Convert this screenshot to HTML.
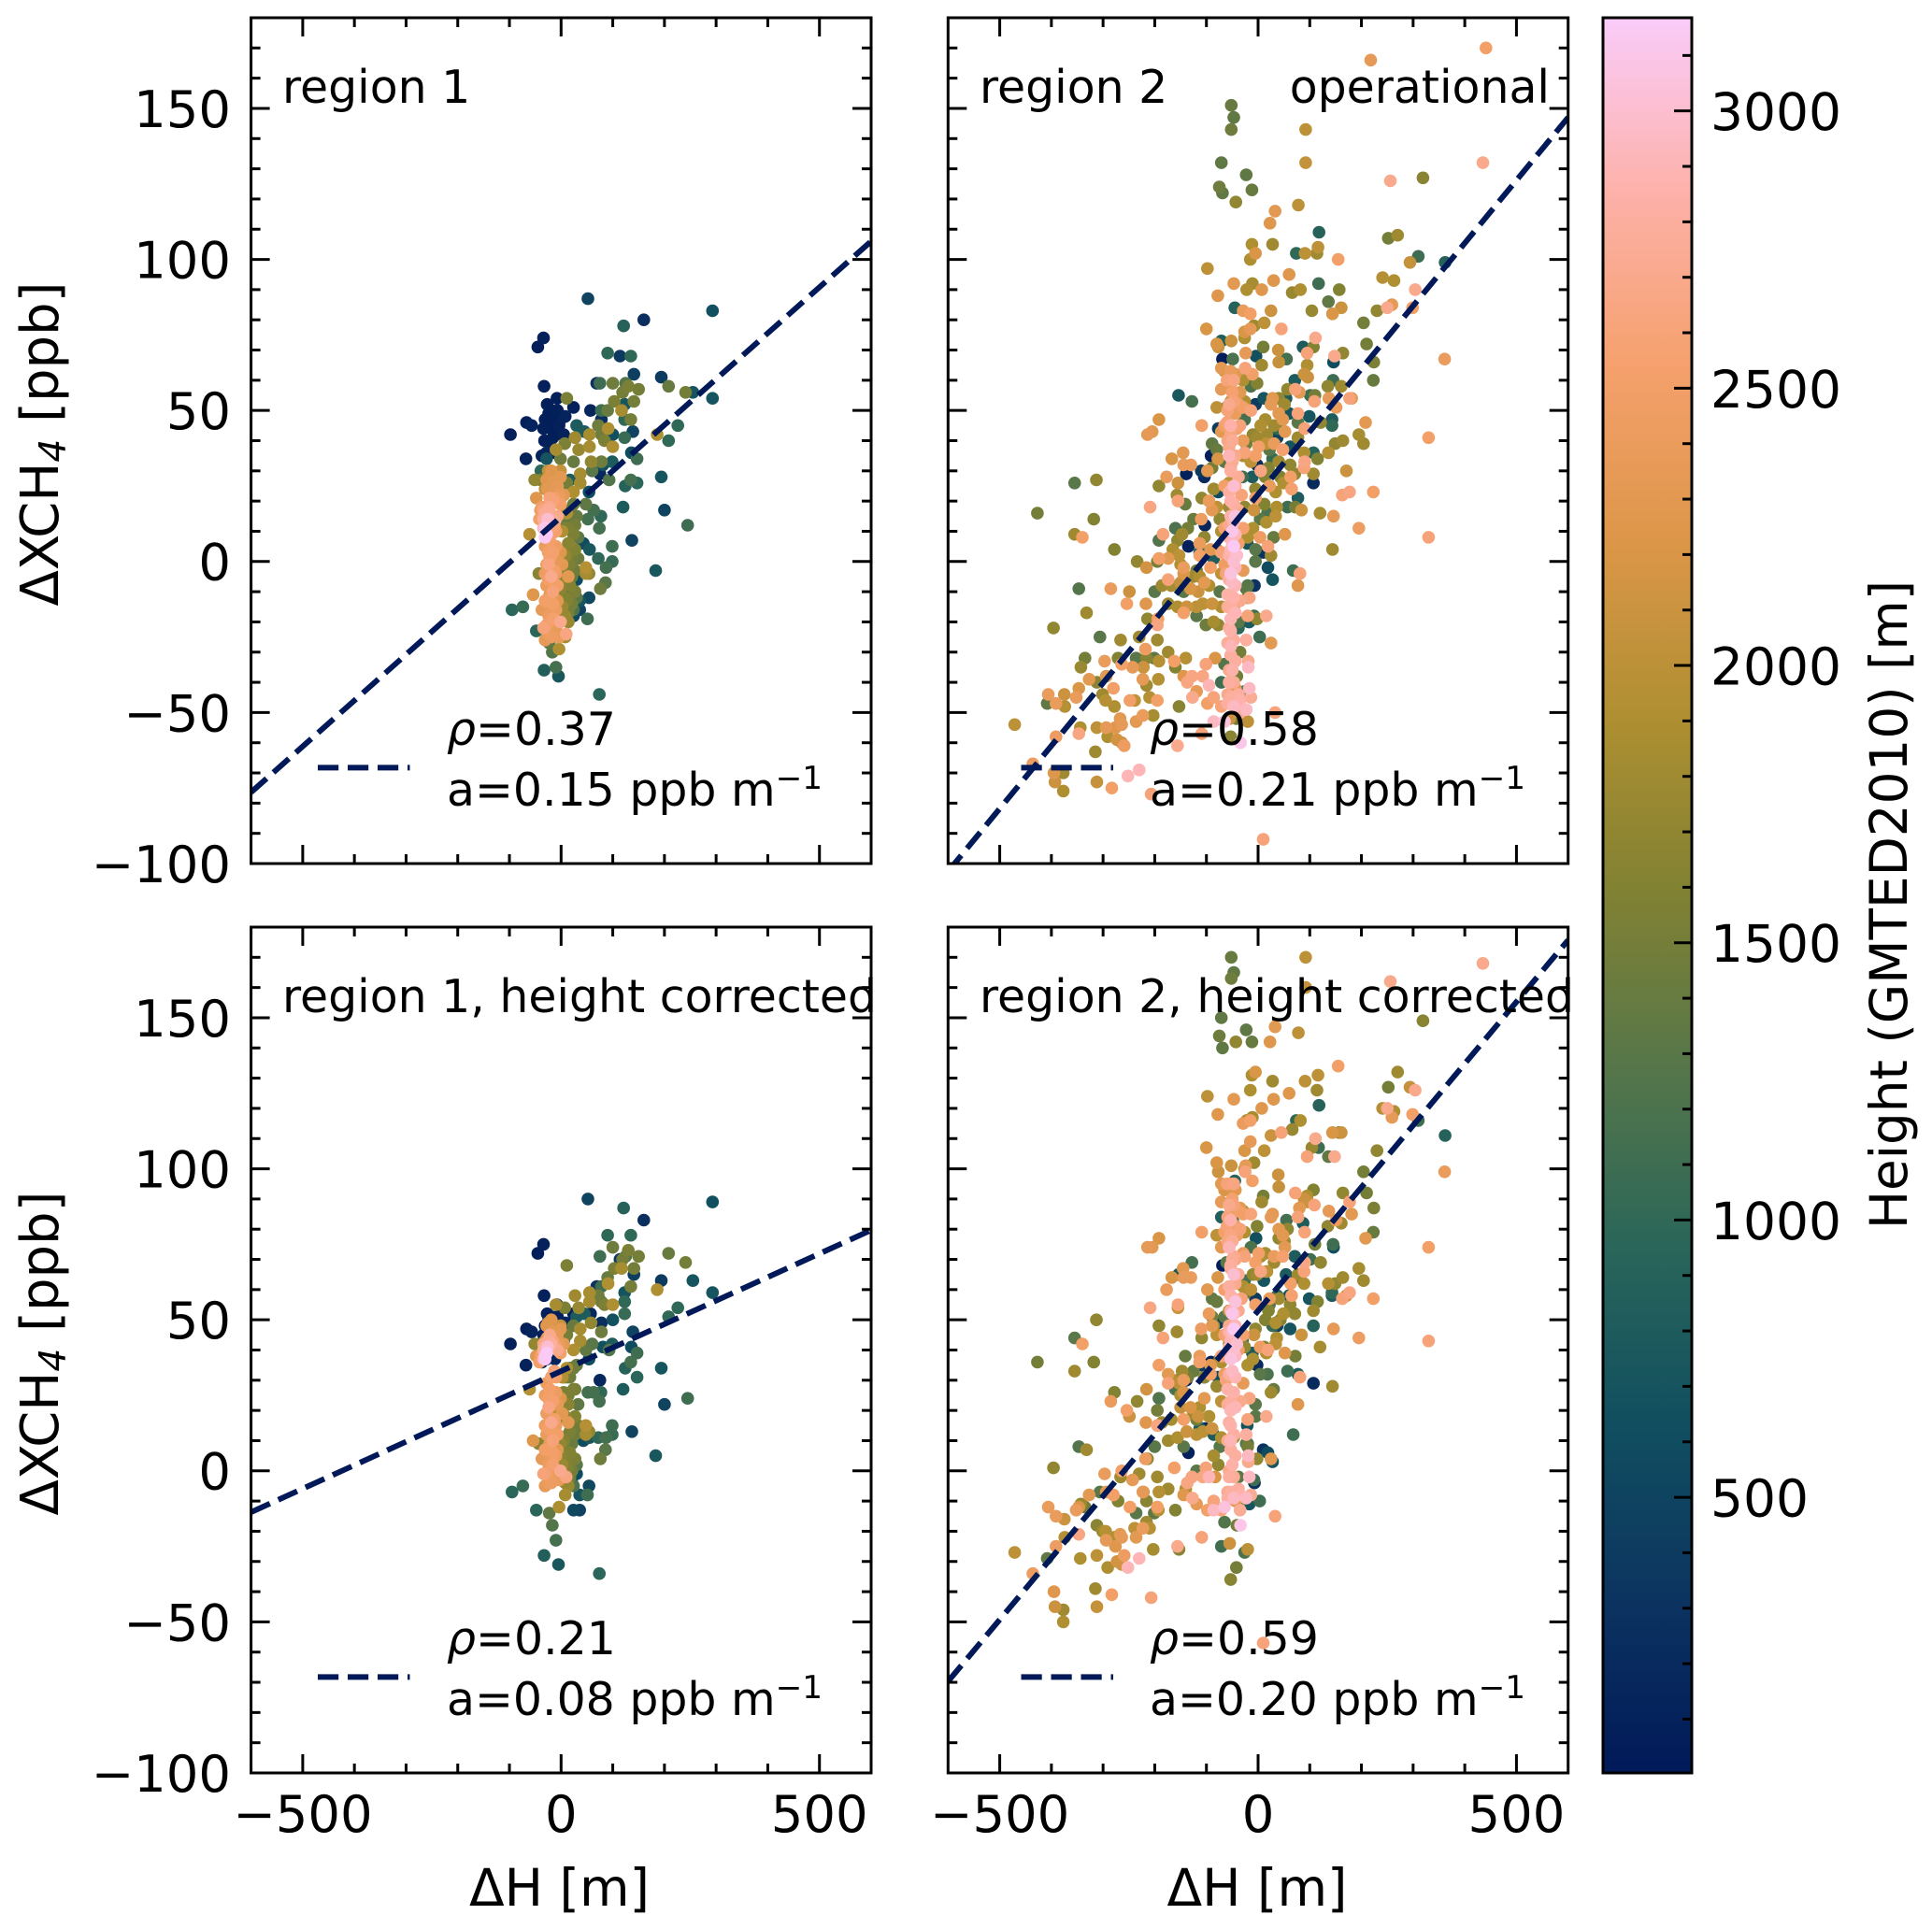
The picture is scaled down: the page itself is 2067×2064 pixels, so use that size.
<!DOCTYPE html>
<html lang="en">
<head>
<meta charset="utf-8">
<title>XCH4 enhancement versus height difference</title>
<style>
html,body{margin:0;padding:0;background:#fff;}
svg{display:block;font-family:"DejaVu Sans","Liberation Sans",sans-serif;fill:#000;}
</style>
</head>
<body>
<svg id="chart" xmlns="http://www.w3.org/2000/svg" width="2067" height="2064" viewBox="0 0 2067 2064">
<defs id="defs"></defs>
<rect width="2067" height="2064" fill="#fff"/>
<g id="panels"></g>
<g id="colorbar"></g>
<g id="labels" font-size="48.9">
  <text x="302" y="110">region 1</text>
  <text x="1048" y="110">region 2</text>
  <text x="1658" y="110" text-anchor="end">operational</text>
  <text x="302" y="1083">region 1, height corrected</text>
  <text x="1048" y="1083">region 2, height corrected</text>

  <text x="478" y="797"><tspan font-style="italic">ρ</tspan>=0.37</text>
  <text x="478" y="862">a=0.15 ppb m<tspan font-size="34.2" dy="-18">−1</tspan></text>
  <text x="1230" y="797"><tspan font-style="italic">ρ</tspan>=0.58</text>
  <text x="1230" y="862">a=0.21 ppb m<tspan font-size="34.2" dy="-18">−1</tspan></text>
  <text x="478" y="1770"><tspan font-style="italic">ρ</tspan>=0.21</text>
  <text x="478" y="1835">a=0.08 ppb m<tspan font-size="34.2" dy="-18">−1</tspan></text>
  <text x="1230" y="1770"><tspan font-style="italic">ρ</tspan>=0.59</text>
  <text x="1230" y="1835">a=0.20 ppb m<tspan font-size="34.2" dy="-18">−1</tspan></text>

  <text font-size="56" text-anchor="middle" transform="translate(62,475) rotate(-90)">ΔXCH<tspan font-size="39.2" font-style="italic" dy="8">4</tspan><tspan dy="-8"> [ppb]</tspan></text>
  <text font-size="56" text-anchor="middle" transform="translate(62,1448) rotate(-90)">ΔXCH<tspan font-size="39.2" font-style="italic" dy="8">4</tspan><tspan dy="-8"> [ppb]</tspan></text>
  <text font-size="55" text-anchor="middle" x="598.5" y="2039">ΔH [m]</text>
  <text font-size="55" text-anchor="middle" x="1345" y="2039">ΔH [m]</text>
  <text font-size="54.8" text-anchor="middle" transform="translate(2040,968) rotate(-90)">Height (GMTED2010) [m]</text>
</g>
</svg>
<script>
// Region 1 soundings
const r1DH = [
-34,-45,-33,-98,-67,-57,-68,-8,-27,24,
57,69,-37,-19,-7,-31,-16,-1,8,-34,
-19,-4,-32,-16,-28,78,75,-24,-10,-20,
-12,5,141,194,114,52,121,160,293,90,
135,208,241,255,293,226,186,208,194,200,
245,183,137,74,-5,-33,-10,-17,-95,-74,
-48,51,99,72,87,86,76,43,55,99,
74,63,52,77,120,124,147,135,93,147,
136,123,139,100,123,123,75,125,100,130,
150,119,141,103,90,11,78,72,135,78,
84,117,91,55,27,34,55,100,7,-10,
30,45,58,78,60,81,99,24,-1,37,
37,24,11,17,48,30,54,-51,-40,-39,
-28,-25,-1,-19,-31,-13,-48,-1,-27,-4,
-37,-1,-22,-16,-25,-31,-7,-34,-26,-34,
-31,-31,-28,-61,2,11,24,27,11,17,
27,-7,8,30,-19,11,17,27,5,14,
20,33,5,14,-1,17,27,-1,11,2,
17,24,14,-4,8,48,48,54,-43,-10,
-19,30,21,54,36,36,24,-23,-54,14,
-31,-10,-24,-19,-25,-10,-22,-31,-1,2,
-22,-25,-37,-7,-19,-22,-31,-1,10,-34,
-13,-19,-7,-25,-16,-10,-4,-31,-7,-28,
-19,-13,-42,-40,5,-7,-19,
-24,-16,-28,-13,-28,-16,-22,-10,-34,-19,
-28,-22,-13,-28,-16,-34,-10,-25,-16,-28,
8,14,8,21,14,5,24,33,8,21];
const r1Height = [
100,60,100,70,90,120,110,80,90,100,
150,300,130,70,80,70,60,90,120,80,
60,100,90,70,140,250,180,50,50,80,
120,110,450,400,380,500,900,250,650,1000,
1000,1400,1500,700,700,1000,1900,1000,700,500,
1100,750,500,950,750,850,1150,1250,950,1050,
950,1100,1100,1000,1150,1300,1450,600,750,1050,
1150,1150,1150,1000,800,900,950,1150,1250,1100,
600,1050,500,650,1000,700,1100,1250,1450,1550,
1500,1500,1500,1550,1400,1550,1100,1450,1500,1450,
1550,1850,1900,1850,1800,1750,1850,1900,1550,1850,
800,800,1700,1450,1300,650,800,1400,1450,1850,
1850,1900,1500,800,1350,1400,600,1700,1550,1000,
700,2050,2050,2000,2000,2100,2250,2300,2300,2400,
2500,2500,2600,2600,2750,2750,2700,2800,3000,2900,
3100,3150,3150,1950,1900,1900,1550,1600,1600,1550,
1450,1650,1500,1300,1700,1400,1450,1500,1550,1650,
1500,1450,1600,1500,1700,1600,1550,1650,1600,1750,
1450,1200,1750,1900,1850,1950,1850,1700,1650,1950,
2000,600,750,550,700,500,550,1350,2250,2300,
2450,2450,2650,2700,2500,2450,2550,2400,2250,2300,
2350,2400,2350,2300,2400,2350,2350,2700,2650,2600,
2400,2450,2500,2500,2600,2450,2400,2500,2350,2400,
2550,2600,2500,2450,2300,2350,2250,
2450,2500,2400,2500,2450,2550,2500,2500,2650,2800,
2850,2700,2500,2250,2300,2300,2350,2400,2550,2500,
1700,1550,1600,1500,1500,1600,1450,1350,1750,1400];
const r1XCH4Operational = [
74,71,58,42,46,45,34,54,52,51,
50,59,35,50,50,47,47,47,48,44,
44,45,40,41,36,47,29,49,42,38,
36,42,62,61,68,87,78,80,83,69,
68,58,56,56,54,45,42,40,28,17,
12,-3,7,-44,-38,-36,-35,-30,-16,-15,
-23,-19,5,1,-2,-7,-9,6,4,0,
11,17,14,15,18,25,26,27,27,34,
36,41,43,42,47,52,59,59,59,58,
57,56,53,53,50,54,50,45,47,42,
40,50,44,42,41,37,38,38,39,37,
45,43,33,33,30,32,33,33,34,29,
26,23,26,27,19,15,23,27,27,30,
34,30,30,27,24,24,21,28,24,22,
18,19,21,20,17,16,15,14,14,11,
11,8,9,9,10,16,9,4,2,-1,
-3,-2,-7,-12,-1,14,17,12,11,6,
1,1,-4,-3,-6,-8,-10,-9,-13,-15,
-15,-16,-20,-29,-25,-2,-4,-4,-4,1,
3,-6,-9,-12,-13,-16,-18,-27,-11,-5,
-4,-4,-1,-5,3,5,1,5,3,-1,
-11,-14,-16,-13,-17,-19,-26,-20,-24,-22,
-21,-25,-8,-6,-10,-16,-25,-13,0,6,
9,12,14,17,22,25,30,
-18,-14,-8,-3,-1,3,7,10,17,14,
12,18,21,27,26,-16,-22,-24,-19,-21,
2,11,-12,-14,-17,16,19,8,-18,-5];
const r1XCH4Corrected = [
75,72,58,42,47,46,35,55,52,52,
52,61,36,51,51,48,48,48,49,45,
45,46,41,42,37,49,30,50,43,39,
37,43,65,63,70,90,87,83,89,78,
78,72,69,63,59,54,60,51,34,22,
24,5,13,-34,-31,-28,-23,-18,-7,-5,
-13,-8,15,11,11,7,4,10,11,12,
23,26,26,26,27,34,31,36,40,39,
41,52,46,50,56,59,71,71,74,73,
71,70,67,67,64,68,61,58,61,56,
55,67,62,59,58,54,56,55,54,55,
51,52,49,46,42,41,42,48,48,47,
43,40,45,34,40,35,37,42,41,42,
40,49,48,47,43,43,38,47,44,42,
38,39,44,43,43,41,40,40,41,37,
38,37,39,27,31,34,27,18,17,13,
12,12,7,2,14,31,31,27,26,22,
16,15,10,12,9,6,4,5,1,2,
-2,-5,-5,-12,-8,15,12,13,9,19,
21,-1,-4,-5,-8,-13,-13,-14,10,16,
15,15,21,16,24,26,22,25,24,19,
9,6,4,7,3,1,-5,0,-2,-1,
-1,-4,12,14,10,5,-3,7,22,29,
31,33,36,38,42,45,50,
2,6,12,17,19,23,27,31,42,42,
41,45,42,48,46,4,-2,-4,2,-1,
18,25,3,0,-3,31,34,22,-4,9];

// Region 2 soundings
const r2DH = [
441,218,-52,-47,-52,92,-71,92,435,319,
-23,256,-75,-69,-12,-43,78,33,23,118,
252,270,28,-12,116,74,91,114,-15,-5,
155,310,294,362,-98,-47,-11,-22,7,30,
60,-78,66,82,117,157,136,161,104,144,
241,263,304,259,250,230,299,204,210,224,
223,361,-45,-29,-15,25,12,-8,-100,45,
-15,-26,-26,-71,-52,-80,-77,111,87,107,
10,39,95,148,164,146,55,40,-69,-4,
-49,-24,7,95,89,96,-71,-65,-53,-44,
-25,-11,-2,-14,-29,71,57,72,80,101,
110,109,135,145,161,137,151,177,181,11,
40,54,28,51,25,-154,-128,-71,-53,-35,
-26,-53,-80,-61,-47,-29,-14,-5,-44,-26,
-60,-77,-71,-53,-41,14,40,48,77,60,
77,99,121,143,143,90,31,37,52,17,
-2,-23,-89,-80,1,37,16,31,48,62,
77,89,107,115,136,149,164,208,195,204,
330,-192,-205,-214,-109,-145,-167,-144,-130,-177,
-155,-192,-157,-141,-155,-209,-110,-139,-104,-89,
-91,-78,-56,-47,-53,-29,-26,-5,28,-2,
5,20,62,90,89,107,107,171,71,63,
49,43,65,34,22,-5,-30,-11,-56,-77,
-56,163,177,223,77,57,72,84,120,146,
195,330,52,144,-5,12,36,18,34,-8,
4,16,-10,4,19,-21,-5,10,25,-95,
-109,-89,-74,-110,-160,-136,-147,-125,-103,-184,
-192,-156,-340,-355,-318,-313,-355,-278,-234,-427,
-165,-135,-113,-104,-80,-113,-153,-192,-174,-195,
-56,-47,-53,-44,-50,-41,-56,-38,-65,-29,
-216,-92,-71,19,28,-7,68,81,77,-5,
-347,-285,-249,-254,-217,-200,-332,-396,-306,-266,
-230,-195,-214,-195,-194,-186,-168,-150,-174,-156,
-138,-119,-107,-89,-71,-47,-174,-144,-113,-104,
-95,-74,-119,-125,-144,-131,-144,-119,-101,-86,
-77,-38,-18,-2,16,3,25,-23,-53,-53,
-59,-53,-35,-65,-41,-19,-19,-56,-71,-26,
-17,-14,-44,-56,-53,-35,-71,-23,-55,-42,
-20,-86,-65,33,-53,-34,-109,-156,-153,-98,
-86,-119,-127,-95,-107,-128,-137,-144,-101,-83,
-140,-162,-160,-174,-192,-201,-216,-236,-218,-243,
-222,-264,-271,-297,-335,-343,-223,-193,-216,-280,
-294,-327,-312,-301,-347,-352,-295,-278,-248,-239,
-210,-195,-406,-375,-408,-391,-374,-471,-344,-312,
-294,-276,-267,-264,-236,-223,-203,-391,-347,-291,
-273,-264,-259,-315,-436,-395,-377,-393,-377,-312,
-283,-252,-230,-207,10,-53,-47,-53,-44,-59,
-35,-17,-20,-59,-20,-23,-20,-17,-38,-8,
-71,-92,-113,-65,-86,-144,-150,-53,-53,-56,
-47,-50,-47,-44,-56,-50,-47,-60,-35,-38,
-53,-47,-56,-44,-50,-56,-47,-53,-44,-56,
-47,-53,-44,-50,-47,-59,-38,-47,-59,-35,
-56,-44,-50,-59,-44,-59,-50,-38,-65,-29,
-65,-32,-38,-62,-29,-71,-80,-86,-98,-65,
-10,5,22,-14,40,14,-26,-20,30,-116];
const r2Height = [
2500,2350,1400,1350,1450,2000,1350,2050,2700,1650,
1350,2700,1450,1350,1400,1700,2000,2300,2250,900,
1500,1800,1800,1900,2000,1000,2000,1800,1900,2200,
2500,1100,2050,900,2000,2300,1850,1900,2250,2250,
2250,2250,1750,1900,1100,1600,1350,2100,1750,2200,
1950,1900,2700,2350,2700,1700,2500,1500,1500,1550,
1400,2400,900,2400,2500,2100,2000,1800,2200,2600,
2350,2200,1900,850,2100,2200,2100,2700,800,1600,
1500,2100,2600,2700,1700,600,1150,2050,50,650,
1200,2350,1800,1900,2100,2100,2300,2200,2400,2300,
2600,2500,1600,1200,1900,800,1700,2600,2300,1100,
1500,2600,1700,1100,1800,2350,2400,2600,2300,700,
1700,800,2300,1800,2350,750,1150,2350,2200,2300,
1900,2000,2000,1300,2600,2500,2600,400,2400,1150,
2600,400,2300,2650,2500,1850,2300,2300,2600,700,
1300,700,1700,800,1000,2600,1800,1000,2300,1800,
1800,1500,1350,1400,2500,500,2000,2400,2550,700,
1800,1900,900,1600,1950,1700,1800,2300,1850,1800,
2500,2200,2300,2350,2500,2300,2200,2400,2400,2400,
2100,1700,1800,1400,2600,2650,400,100,200,1500,
100,2200,2700,2700,2700,1900,2600,2500,1050,200,
2650,1600,1700,2650,2600,1800,200,2100,1700,2500,
1900,1600,2550,1900,2400,1700,1100,800,2000,600,
1800,2600,2650,2500,800,1100,1500,2100,1850,2350,
2450,2600,2250,1800,2500,1600,1900,1200,2000,2100,
1300,1900,1900,2450,2600,700,1300,300,1800,2400,
1700,2300,1700,2450,1200,1500,1800,1400,150,2600,
1250,1700,2500,1800,1600,1700,1300,1600,1700,1500,
1900,100,2400,1700,1750,850,2000,2500,2300,1500,
2800,2800,2850,2900,2950,3000,2850,2700,2550,2550,
2150,2500,2000,600,700,300,1100,2600,2250,1300,
1250,2400,2100,2500,2250,1300,1800,1700,1300,1800,
1800,1800,1700,2650,2500,1800,1850,2050,1800,1900,
2100,2000,2000,2100,1900,1900,2600,2200,1900,2300,
1900,1300,1500,1800,1300,2200,2500,1300,1450,1850,
1700,1300,800,1700,2700,1100,2300,2800,2900,2850,
2750,2800,1500,1250,1500,2700,2950,2700,1100,1200,
2950,2750,2350,2800,2800,2850,2600,2950,2100,1500,
2000,2950,3050,2600,1650,3100,2600,2700,1650,2500,
2600,2350,2700,2900,2650,2650,2650,2250,2600,2200,
1950,2500,1600,1800,1950,1350,1650,1300,2450,2350,
2100,2500,1600,2400,1500,1750,2350,1950,1800,2500,
2300,2300,1650,1800,2200,2400,1950,1900,2500,2000,
1950,2500,2400,2100,1350,2400,1950,2000,1900,2000,
2350,2250,2300,2350,2300,2400,1850,2450,2650,1900,
2150,2150,2450,1800,2450,2250,1800,2100,1900,2050,
2500,2900,2900,2600,2600,2900,3000,3050,2900,2850,
2700,2650,2600,2750,1500,1300,1250,700,1000,1100,
2600,2300,2500,2450,800,2400,1900,2800,2850,2700,
3000,3100,3150,3050,2900,2750,2650,2600,2600,2750,
2850,2900,2850,2950,2950,2800,2850,2800,2900,2800,
2800,2900,2800,2850,2750,2700,2800,2950,2800,2750,
2700,2700,2750,2650,2650,2600,2550,2500,2500,2400,
2500,2600,2500,2600,2350,1900,2000,1800,2300,1300,
1700,1900,1300,2000,1800,1600,1700,1900,1400,2100];
const r2XCH4Operational = [
170,166,151,147,143,143,132,132,132,127,
128,126,124,122,123,119,118,116,112,109,
107,108,105,105,104,102,102,102,100,102,
100,101,99,99,97,92,92,90,90,93,
95,88,89,90,92,90,86,84,83,82,
94,93,90,85,84,83,84,79,72,66,
60,67,84,83,82,83,79,78,77,77,
77,76,74,73,73,72,71,74,71,71,
71,70,69,68,69,66,67,66,67,68,
67,69,65,65,62,61,64,63,63,62,
64,62,59,58,60,60,57,57,56,55,
55,53,58,60,58,54,51,54,54,54,
54,54,54,52,52,55,53,57,57,56,
53,53,51,51,53,51,50,52,49,47,
46,44,43,42,44,47,49,47,49,49,
46,48,46,47,45,44,45,44,43,42,
41,39,39,37,38,41,39,39,37,38,
41,36,36,34,36,39,40,46,42,39,
41,47,43,42,45,36,34,32,32,28,
26,25,22,19,20,18,30,29,28,31,
35,34,38,35,31,35,36,35,34,32,
30,31,32,33,31,29,26,30,29,28,
26,28,24,23,25,24,28,28,26,23,
18,22,23,23,21,18,18,17,16,15,
11,8,9,4,21,19,18,16,15,17,
14,13,11,8,5,6,4,3,2,20,
21,17,14,14,11,11,9,14,12,9,
7,7,8,9,14,27,26,4,0,16,
4,5,6,8,4,3,2,1,1,0,
23,19,15,9,6,2,8,17,11,11,
-2,-2,-4,-2,-6,-8,-3,-4,-8,0,
-9,-9,-10,-14,-14,-10,-17,-22,-25,-26,
-25,-26,-19,-21,-19,-8,-8,-7,-14,-15,
-15,-15,-14,-14,-15,-15,-6,-4,-5,-7,
-8,-10,-3,-5,-10,-9,-17,-18,-21,-20,
-21,-20,-20,-19,-18,-25,-27,-26,-19,-23,
-27,-31,-30,-34,-38,-33,-35,-36,-40,-43,
-42,-45,-42,-40,-45,-46,-48,-49,-52,-52,
-53,-53,-53,-50,-58,-60,-57,-61,-48,-47,
-45,-43,-45,-41,-38,-38,-40,-38,-34,-32,
-32,-33,-35,-30,-33,-32,-32,-32,-29,-35,
-35,-34,-32,-33,-32,-35,-39,-39,-41,-42,
-38,-39,-40,-44,-42,-45,-46,-48,-46,-46,
-45,-46,-44,-44,-47,-47,-48,-54,-55,-55,
-55,-55,-52,-54,-53,-51,-51,-58,-57,-58,
-59,-60,-61,-63,-67,-70,-70,-73,-76,-73,
-75,-71,-69,-77,-92,4,0,-4,-8,-11,
-13,-12,-18,-15,-12,-9,-8,-20,-22,-18,
3,4,2,-1,1,-2,-1,30,45,52,
25,10,5,15,35,40,60,60,45,28,
20,13,2,-2,-7,-6,-12,-15,-17,-22,
-26,-28,-33,-36,-40,-44,-44,-48,-47,-50,
12,25,33,40,35,50,56,52,45,40,
25,22,6,-4,-3,10,18,24,30,33,
42,45,37,33,33,28,18,8,8,-10];
const r2XCH4Corrected = [
204,198,170,165,163,170,150,160,168,149,
146,162,144,140,142,142,145,147,142,121,
127,132,129,131,131,116,129,126,126,132,
134,116,127,111,124,123,117,116,120,123,
125,118,113,116,107,112,104,112,107,112,
120,119,126,117,120,106,118,99,92,87,
79,99,96,115,116,111,106,102,107,112,
109,106,100,84,101,102,99,110,82,93,
91,98,104,104,92,74,83,94,68,77,
83,101,89,91,90,89,95,93,95,93,
99,96,81,74,86,71,80,92,87,70,
75,88,81,75,82,86,83,89,85,63,
77,65,85,76,84,65,69,89,87,87,
79,80,78,69,88,85,85,57,81,63,
81,49,74,78,78,72,80,78,84,58,
64,57,69,58,59,79,69,58,74,66,
65,59,57,56,72,48,66,71,71,47,
65,62,48,56,62,62,64,77,67,63,
74,77,74,74,79,67,64,64,64,60,
54,48,46,38,55,54,35,30,31,51,
36,64,74,71,67,61,71,69,48,35,
66,53,55,69,66,53,29,58,52,62,
52,50,58,49,57,47,43,39,53,31,
42,57,59,57,32,33,38,45,41,47,
44,43,39,28,55,41,44,32,42,45,
32,39,37,41,40,15,22,7,26,52,
44,48,37,47,27,31,33,33,14,44,
24,30,42,33,36,50,44,26,23,36,
30,6,38,31,28,14,29,35,32,20,
61,57,53,48,46,42,46,53,45,45,
27,32,23,6,3,-4,12,31,22,18,
8,23,18,20,16,8,7,1,-7,-2,
-1,-2,4,15,15,16,17,21,10,11,
13,12,13,14,11,11,29,26,21,24,
18,8,17,19,8,21,17,0,-1,5,
2,-2,-9,4,18,-10,4,12,20,15,
10,7,-10,-17,-18,3,5,0,-25,-27,
-2,-8,-10,-2,-7,-8,-13,-9,-24,-32,
-26,-13,-12,-15,-36,-18,-22,-25,-26,-13,
-10,-11,-9,-2,-2,-2,-4,-8,1,-2,
-6,1,-13,-6,-7,-14,-10,-14,4,-3,
-7,0,-10,-1,-12,-11,-7,-13,-17,-8,
-7,-8,-18,-20,-12,-13,-20,-22,-12,-19,
-19,-12,-12,-16,-29,-15,-22,-27,-29,-28,
-23,-25,-21,-22,-22,-19,-26,-25,-21,-32,
-30,-31,-28,-39,-34,-40,-46,-45,-50,-45,
-41,-32,-29,-42,-57,43,40,37,31,27,
23,24,17,22,8,9,9,-11,-8,-3,
38,35,36,32,12,30,25,68,83,88,
65,52,47,56,74,76,95,95,80,65,
58,52,41,38,33,32,26,23,21,16,
12,10,5,2,-2,-7,-6,-9,-9,-13,
48,62,70,76,70,84,90,86,79,72,
60,57,40,30,29,36,45,48,60,51,
65,71,55,60,57,50,41,35,27,18];

// Axis tick values
const xMajorTicks = [-500, 0, 500];
const xMinorTicks = [-600,-400,-300,-200,-100,100,200,300,400,600];
const yMajorTicks = [-100,-50,0,50,100,150];
const yMinorTicks = [-90,-80,-70,-60,-40,-30,-20,-10,10,20,30,40,60,70,80,90,110,120,130,140,160,170];
const cbMajorTicks = [500,1000,1500,2000,2500,3000];
const cbMinorTicks = [100,200,300,400,600,700,800,900,1100,1200,1300,1400,1600,1700,1800,1900,2100,2200,2300,2400,2600,2700,2800,2900,3100];

// Fitted regression lines
const fitSlopes = [0.152, 0.208, 0.0778, 0.2045];
const fitIntercepts = [14.8, 22.2, 33, 53];

// Colormap
const cmapColors = ['#011959','#0c3460','#114f60','#2a6659','#55764a','#808133','#ae8f31','#dc9648','#f5a06c','#fdb1a9','#faccfa'];

const NS = 'http://www.w3.org/2000/svg';
const xDomain = [-600, 600];
const yDomain = [-100, 180];
const heightDomain = [3, 3168];
const panelW = 663.4, panelH = 905;
const panels = [
  {key:'region-1-operational', left:268.6, top:19, dh:r1DH, h:r1Height, ppb:r1XCH4Operational, yLabels:true, xLabels:false, legendX:340},
  {key:'region-2-operational', left:1014.3, top:19, dh:r2DH, h:r2Height, ppb:r2XCH4Operational, yLabels:false, xLabels:false, legendX:1092.5},
  {key:'region-1-corrected', left:268.6, top:992, dh:r1DH, h:r1Height, ppb:r1XCH4Corrected, yLabels:true, xLabels:true, legendX:340},
  {key:'region-2-corrected', left:1014.3, top:992, dh:r2DH, h:r2Height, ppb:r2XCH4Corrected, yLabels:false, xLabels:true, legendX:1092.5}
];

function hexRgb(c){return [1,3,5].map(function(i){return parseInt(c.substr(i,2),16);});}
function heightColor(v){
  var t=(v-heightDomain[0])/(heightDomain[1]-heightDomain[0]);
  t=Math.max(0,Math.min(1,t))*(cmapColors.length-1);
  var i=Math.min(Math.floor(t),cmapColors.length-2),f=t-i;
  var a=hexRgb(cmapColors[i]),b=hexRgb(cmapColors[i+1]);
  return 'rgb('+a.map(function(x,k){return Math.round(x+(b[k]-x)*f);}).join(',')+')';
}
function xScale(p,v){return p.left+(v-xDomain[0])/(xDomain[1]-xDomain[0])*panelW;}
function yScale(p,v){return p.top+panelH-(v-yDomain[0])/(yDomain[1]-yDomain[0])*panelH;}
function cbScale(v){return 1897-(v-heightDomain[0])/(heightDomain[1]-heightDomain[0])*1878;}
function mk(tag,attrs,parent){
  var e=document.createElementNS(NS,tag);
  for(var k in attrs){e.setAttribute(k,attrs[k]);}
  parent.appendChild(e);
  return e;
}
function fmt(v){return String(v).replace('-','\u2212');}

var defs=document.getElementById('defs');
var panelsG=document.getElementById('panels');

panels.forEach(function(p,pi){
  var g=mk('g',{},panelsG);
  
  

  var clip=mk('clipPath',{id:'clip'+pi},defs);
  mk('rect',{x:p.left,y:p.top,width:panelW,height:panelH},clip);

  var pts=mk('g',{'clip-path':'url(#clip'+pi+')'},g);
  
  
  var order=p.dh.map(function(_,i){return i;}).sort(function(a,b){return p.h[a]-p.h[b];});
  order.forEach(function(i){
    var c=mk('circle',{cx:xScale(p,p.dh[i]).toFixed(1),cy:yScale(p,p.ppb[i]).toFixed(1),r:6.8,fill:heightColor(p.h[i])},pts);
    
    
  });

  var line=mk('line',{x1:xScale(p,xDomain[0]),y1:yScale(p,fitSlopes[pi]*xDomain[0]+fitIntercepts[pi]),
    x2:xScale(p,xDomain[1]),y2:yScale(p,fitSlopes[pi]*xDomain[1]+fitIntercepts[pi]),
    stroke:'#011959','stroke-width':6,'stroke-dasharray':'22.2 9.8','clip-path':'url(#clip'+pi+')'},g);
  
  

  var leg=mk('line',{x1:p.legendX,y1:p.top+802.4,x2:p.legendX+98.5,y2:p.top+802.4,stroke:'#011959','stroke-width':6,'stroke-dasharray':'22.2 9.8'},g);
  
  

  var ticks=mk('g',{stroke:'#000','stroke-width':3},g);
  
  
  function xt(list,len){list.forEach(function(v){
    if(v<=xDomain[0]||v>=xDomain[1])return;
    var x=xScale(p,v);
    var a=mk('line',{x1:x,x2:x,y1:p.top+panelH,y2:p.top+panelH-len},ticks);
    
    
    var b=mk('line',{x1:x,x2:x,y1:p.top,y2:p.top+len},ticks);
    
    
  });}
  function yt(list,len){list.forEach(function(v){
    if(v<=yDomain[0]||v>=yDomain[1])return;
    var y=yScale(p,v);
    var a=mk('line',{y1:y,y2:y,x1:p.left,x2:p.left+len},ticks);
    
    
    var b=mk('line',{y1:y,y2:y,x1:p.left+panelW,x2:p.left+panelW-len},ticks);
    
    
  });}
  xt(xMajorTicks,20);xt(xMinorTicks,10);yt(yMajorTicks,20);yt(yMinorTicks,10);

  var frame=mk('rect',{x:p.left,y:p.top,width:panelW,height:panelH,fill:'none',stroke:'#000','stroke-width':3},g);
  
  

  if(p.yLabels){yMajorTicks.forEach(function(v){
    var t=mk('text',{x:247,y:yScale(p,v)+19.9,'text-anchor':'end','font-size':54.4},g);
    t.textContent=fmt(v);
    
    
  });}
  if(p.xLabels){xMajorTicks.forEach(function(v){
    var t=mk('text',{x:xScale(p,v),y:1960,'text-anchor':'middle','font-size':54.4},g);
    t.textContent=fmt(v);
    
    
  });}
});

// Colorbar
var cbG=document.getElementById('colorbar');
var grad=mk('linearGradient',{id:'cbGrad',x1:0,y1:1,x2:0,y2:0},defs);
cmapColors.forEach(function(c,i){
  mk('stop',{offset:i/(cmapColors.length-1),'stop-color':c},grad);
});
var cbRect=mk('rect',{x:1715,y:19,width:95,height:1878,fill:'url(#cbGrad)',stroke:'#000','stroke-width':3},cbG);


function cbt(list,len){list.forEach(function(v){
  var y=cbScale(v);
  var l=mk('line',{x1:1810,x2:1810-len,y1:y,y2:y,stroke:'#000','stroke-width':3},cbG);
  
  
});}
cbt(cbMajorTicks,19);cbt(cbMinorTicks,10);
cbMajorTicks.forEach(function(v){
  var t=mk('text',{x:1830,y:cbScale(v)+20.5,'font-size':55},cbG);
  t.textContent=String(v);
  
  
});
</script>
</body>
</html>
